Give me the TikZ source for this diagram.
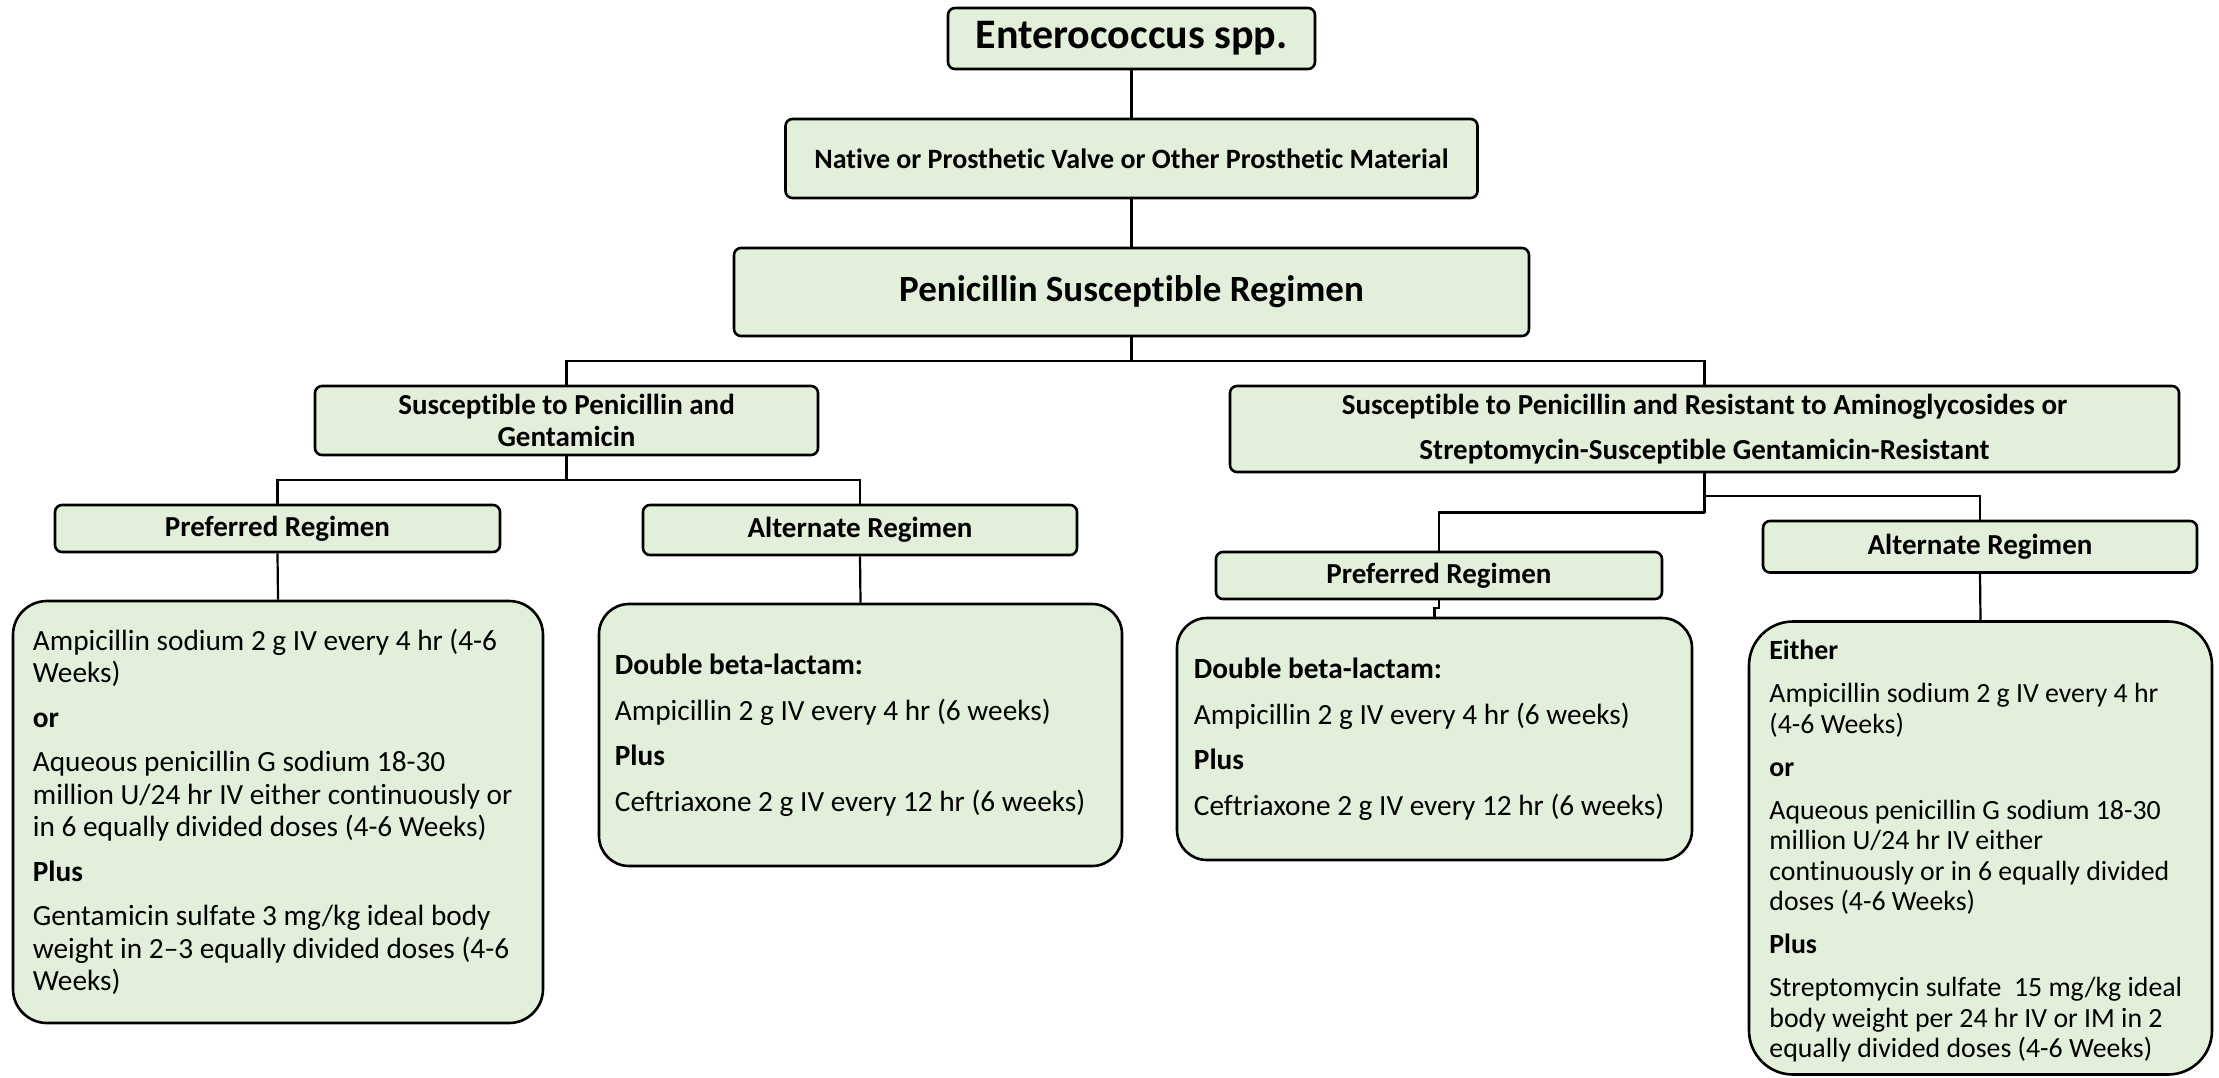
\documentclass[tikz,border=0pt]{standalone}
\usepackage{fontspec}
\setmainfont{Carlito}[Ligatures={TeX,NoCommon}, Contextuals=NoAlternate]
\definecolor{boxfill}{HTML}{E2EFDA}
\begin{document}
\begin{tikzpicture}[x=1pt,y=-1pt,
  every node/.style={inner sep=0pt},
  hdr/.style={draw=black, line width=2.6pt, fill=boxfill, rounded corners=7pt,
    align=center, font=\bfseries\fontsize{29}{32.5}\selectfont},
  card/.style={draw=black, line width=2.6pt, fill=boxfill},
  body/.style={align=left, anchor=west, font=\fontsize{29.3}{32.5}\selectfont},
  bodysmall/.style={align=left, anchor=west, font=\fontsize{27.8}{30.5}\selectfont},
  link/.style={draw=black, line width=2.2pt},
]
\useasboundingbox (0,0) rectangle (2219,1077);

% top of the tree
\node[hdr, minimum width=367pt, minimum height=61pt,
  font=\bfseries\fontsize{42}{46}\selectfont] (ent) at (1131.5,38.5) {Enterococcus spp.};
\node[hdr, minimum width=692pt, minimum height=79pt,
  font=\bfseries\fontsize{28}{32}\selectfont] (nat) at (1131.5,158.5)
  {Native or Prosthetic Valve or Other Prosthetic Material};
\node[hdr, minimum width=795pt, minimum height=88pt,
  font=\bfseries\fontsize{37}{42}\selectfont] (pen) at (1131.5,292)
  {Penicillin Susceptible Regimen};

% susceptibility branches
\node[hdr, minimum width=503pt, minimum height=69pt] (sg) at (566.5,420.5)
  {Susceptible to Penicillin and\\Gentamicin};
\node[hdr, minimum width=949pt, minimum height=86pt] (sr) at (1704.5,429)
  {Susceptible to Penicillin and Resistant to Aminoglycosides or\\[12.5pt]
   Streptomycin-Susceptible Gentamicin-Resistant};

% regimen headers
\node[hdr, minimum width=445pt, minimum height=47pt] (prefL) at (277.5,528.5) {Preferred Regimen};
\node[hdr, minimum width=434pt, minimum height=50pt] (altL) at (860,530) {Alternate Regimen};
\node[hdr, minimum width=446pt, minimum height=47pt] (prefR) at (1439,575.5) {Preferred Regimen};
\node[hdr, minimum width=434pt, minimum height=51.5pt] (altR) at (1980,546.75) {Alternate Regimen};

% regimen cards
\node[card, rounded corners=34pt, minimum width=530pt, minimum height=422pt] (bigL) at (278,812) {};
\node[body] (bigLtext) at ([xshift=21pt]bigL.west) {%
  Ampicillin sodium 2 g IV every 4 hr (4-6\\
  Weeks)\\[12pt]
  \textbf{or}\\[12pt]
  Aqueous penicillin G sodium 18-30\\
  million U/24 hr IV either continuously or\\
  in 6 equally divided doses (4-6 Weeks)\\[12pt]
  \textbf{Plus}\\[12pt]
  Gentamicin sulfate 3 mg/kg ideal body\\
  weight in 2–3 equally divided doses (4-6\\
  Weeks)};

\node[card, rounded corners=30pt, minimum width=523pt, minimum height=262pt] (midL) at (860.5,735) {};
\node[body] (midLtext) at ([xshift=17pt]midL.west) {%
  \textbf{Double beta-lactam:}\\[13pt]
  Ampicillin 2 g IV every 4 hr (6 weeks)\\[13pt]
  \textbf{Plus}\\[13pt]
  Ceftriaxone 2 g IV every 12 hr (6 weeks)};

\node[card, rounded corners=30pt, minimum width=515pt, minimum height=242pt] (midR) at (1434.5,739) {};
\node[body] (midRtext) at ([xshift=18pt]midR.west) {%
  \textbf{Double beta-lactam:}\\[13pt]
  Ampicillin 2 g IV every 4 hr (6 weeks)\\[13pt]
  \textbf{Plus}\\[13pt]
  Ceftriaxone 2 g IV every 12 hr (6 weeks)};

\node[card, rounded corners=44pt, minimum width=463pt, minimum height=453pt] (bigR) at (1980.5,848) {};
\node[bodysmall] (bigRtext) at ([xshift=21.5pt,yshift=-3pt]bigR.west) {%
  \textbf{Either}\\[12.5pt]
  Ampicillin sodium 2 g IV every 4 hr\\
  (4-6 Weeks)\\[12.5pt]
  \textbf{or}\\[12.5pt]
  Aqueous penicillin G sodium 18-30\\
  million U/24 hr IV either\\
  continuously or in 6 equally divided\\
  doses (4-6 Weeks)\\[12.5pt]
  \textbf{Plus}\\[12.5pt]
  Streptomycin sulfate\ \ 15 mg/kg ideal\\
  body weight per 24 hr IV or IM in 2\\
  equally divided doses (4-6 Weeks)};

% connectors
\coordinate (bus1) at (1131.5,361);
\coordinate (bus2) at (566.5,480);
\coordinate (bus3) at (1704.5,496);
\coordinate (bus4) at (1704.5,512.5);

\draw[link] (ent.south) -- (nat.north);
\draw[link] (nat.south) -- (pen.north);
\draw[link] (pen.south) -- (bus1);
\draw[link] (sg.north) |- (bus1) -| (sr.north);
\draw[link] (sg.south) -- (bus2);
\draw[link] (prefL.north) |- (bus2) -| (altL.north);
\draw[link] (sr.south) -- (bus4);
\draw[link] (bus3) -| (altR.north);
\draw[link] (bus4) -| (prefR.north);
\draw[link] (prefL.south) -- (bigL.north);
\draw[link] (altL.south) -- (midL.north);
\draw[link] (prefR.south) -- ++(0,8) -| (midR.north);
\draw[link] (altR.south) -- (bigR.north);
\end{tikzpicture}
\end{document}
